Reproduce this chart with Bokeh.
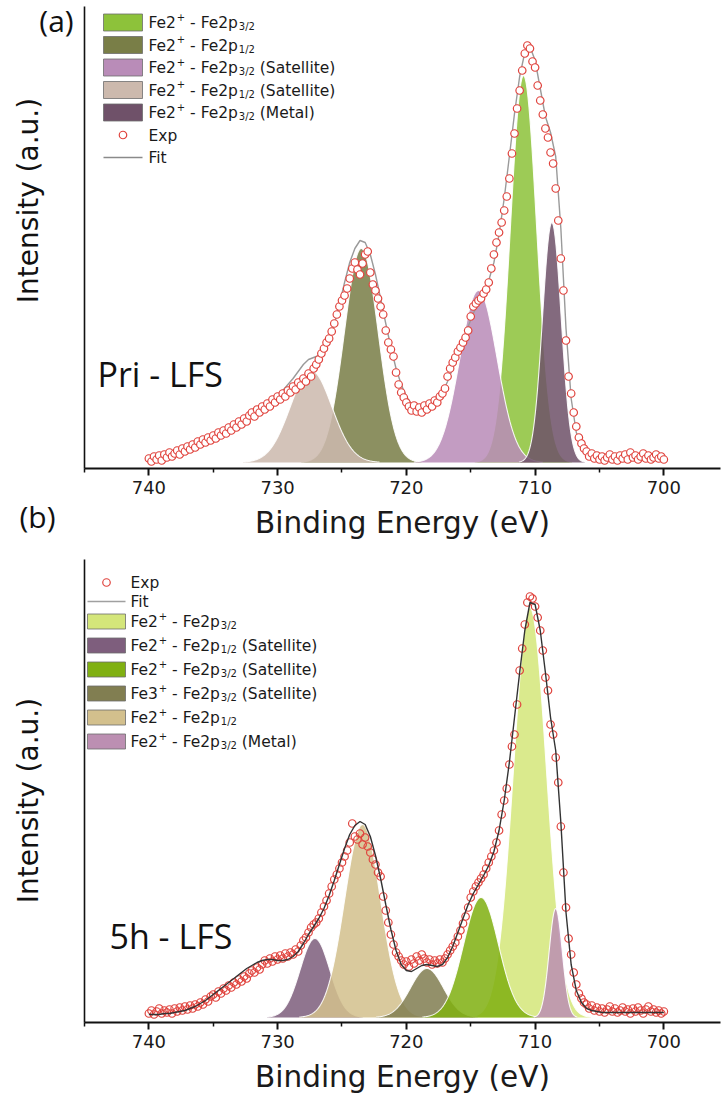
import numpy as np
from bokeh.plotting import figure
from bokeh.models import Range1d, FixedTicker
from bokeh.layouts import column, row
from bokeh.embed import file_html
from bokeh.resources import INLINE
from bokeh.core.properties import value

# ---------------- data ----------------
x_ticks = [740, 730, 720, 710, 700]
x_minor = [745, 735, 725, 715, 705]
exp_start, exp_step = 740.0, 0.2
fit_start, fit_step = 740.0, 0.4

# panel (a) : Pri - LFS
a_exp = [10, 7, 12, 9, 13, 8, 14, 11, 16, 12, 15, 18, 14, 20, 17, 22, 19, 24, 21, 27,
         24, 29, 26, 31, 28, 33, 30, 36, 33, 38, 35, 41, 38, 44, 41, 47, 44, 50, 47, 53,
         56, 52, 59, 56, 62, 59, 65, 62, 69, 66, 72, 69, 75, 72, 78, 76, 82, 79, 86, 83,
         90, 87, 95, 92, 100, 104, 109, 115, 120, 126, 130, 137, 145, 154, 162, 168, 173, 180, 190, 200,
         206, 199, 194, 205, 214, 217, 196, 184, 178, 170, 162, 154, 138, 126, 119, 112, 96, 84, 76, 71,
         66, 62, 58, 63, 57, 61, 56, 63, 59, 65, 62, 68, 66, 72, 75, 80, 92, 100, 106, 111,
         117, 121, 126, 131, 138, 152, 162, 165, 168, 170, 175, 179, 186, 200, 214, 226, 236, 246, 258, 272,
         290, 315, 335, 360, 378, 398, 415, 423, 420, 407, 401, 383, 368, 354, 340, 331, 316, 305, 280, 248,
         210, 178, 128, 92, 75, 56, 42, 31, 25, 20, 17, 12, 15, 10, 13, 9, 12, 8, 11, 14,
         9, 12, 8, 13, 10, 14, 9, 16, 11, 13, 9, 12, 15, 10, 13, 9, 11, 14, 10, 12, 9]
a_fit = [8, 9, 10, 11, 13, 14, 16, 18, 20, 22, 25, 28, 31, 34, 37, 40, 43, 46, 49, 52,
         55, 58, 61, 65, 69, 73, 78, 84, 90, 97, 104, 109, 111, 113, 118, 128, 144, 164, 186, 206,
         220, 228, 226, 214, 194, 170, 145, 121, 100, 84, 72, 64, 60, 59, 60, 63, 68, 76, 87, 100,
         114, 128, 142, 155, 166, 176, 188, 206, 234, 270, 312, 355, 392, 416, 422, 408, 380, 352, 336, 312,
         240, 140, 70, 36, 22, 15, 12, 11, 10, 10, 10, 10, 10, 10, 10, 10, 10, 10, 10, 10, 10]
a_names = ["Fe2+ - Fe2p3/2", "Fe2+ - Fe2p1/2", "Fe2+ - Fe2p3/2 (Satellite)",
           "Fe2+ - Fe2p1/2 (Satellite)", "Fe2+ - Fe2p3/2 (Metal)"]
a_centers = [710.9, 723.5, 714.4, 727.4, 708.7]
a_heights = [387, 214, 172, 92, 240]
a_fwhm = [2.4, 3.1, 3.4, 3.8, 1.7]
a_colors = ["#8DC23A", "#797E47", "#B98CB8", "#CCB9AD", "#6F5169"]
a_order = [1, 3, 0, 2, 4]
a_base = 6

# panel (b) : 5h - LFS
b_exp = [9, 12, 8, 11, 14, 9, 12, 10, 13, 9, 14, 11, 15, 12, 16, 13, 17, 14, 18, 16,
         20, 18, 23, 21, 26, 28, 25, 31, 29, 34, 32, 37, 35, 40, 38, 43, 41, 46, 44, 49,
         52, 50, 55, 53, 58, 62, 59, 64, 61, 66, 63, 67, 64, 69, 66, 70, 68, 73, 71, 77,
         82, 85, 90, 95, 98, 100, 104, 110, 116, 122, 129, 136, 143, 148, 154, 160, 166, 172, 180, 199,
         186, 183, 189, 178, 185, 176, 170, 163, 158, 150, 146, 126, 112, 100, 88, 78, 70, 66, 62, 58,
         61, 56, 63, 59, 66, 62, 68, 64, 60, 63, 58, 62, 59, 63, 60, 64, 68, 72, 76, 80,
         86, 92, 99, 106, 115, 125, 131, 136, 140, 144, 148, 154, 160, 166, 172, 180, 192, 208, 222, 234,
         258, 276, 288, 318, 352, 374, 398, 420, 426, 424, 416, 405, 392, 372, 345, 332, 298, 288, 265, 240,
         196, 150, 115, 84, 68, 50, 38, 29, 24, 20, 18, 14, 17, 12, 15, 11, 14, 10, 13, 16,
         11, 14, 10, 12, 15, 11, 13, 9, 14, 11, 15, 12, 9, 13, 16, 11, 13, 10, 12, 9, 11]
b_fit = [8, 8, 8, 9, 9, 10, 11, 12, 14, 16, 19, 22, 26, 30, 34, 38, 42, 46, 50, 54,
         57, 60, 62, 63, 63, 62, 62, 63, 66, 71, 79, 88, 96, 104, 114, 127, 142, 158, 174, 188,
         197, 201, 198, 186, 167, 144, 118, 93, 72, 58, 52, 51, 54, 57, 58, 57, 56, 58, 65, 76,
         90, 104, 118, 129, 138, 147, 157, 171, 192, 222, 260, 305, 350, 392, 420, 418, 392, 350, 305, 272,
         200, 110, 58, 32, 20, 14, 12, 11, 10, 10, 10, 10, 10, 10, 10, 10, 10, 10, 10, 10, 10]
b_names = ["Fe2+ - Fe2p3/2", "Fe2+ - Fe2p1/2 (Satellite)", "Fe2+ - Fe2p3/2 (Satellite)",
           "Fe3+ - Fe2p3/2 (Satellite)", "Fe2+ - Fe2p1/2", "Fe2+ - Fe2p3/2 (Metal)"]
b_centers = [710.4, 727.1, 714.2, 718.4, 723.4, 708.4]
b_heights = [410, 79, 120, 49, 193, 109]
b_fwhm = [3.0, 2.7, 3.2, 3.0, 3.3, 1.2]
b_colors = ["#D4E67A", "#7E5E7D", "#80B012", "#817E51", "#D3C08D", "#BC8FB2"]
b_order = [0, 1, 4, 3, 2, 5]
b_base = 5

# ---------------- layout helpers ----------------
W = 727
SIDE_W = 78
FRAME_LEFT, FRAME_RIGHT = 84, 720
X_LEFT, X_RIGHT = 745.0, 695.6
AX_FONT = "DejaVu Sans"
DV = {" ": .318, "(": .390, ")": .390, "+": .838, "-": .361, ".": .318, "/": .337,
      "0": .636, "1": .636, "2": .636, "3": .636, "E": .632, "F": .575, "M": .863,
      "S": .635, "a": .613, "e": .615, "i": .278, "l": .278, "p": .635, "t": .392, "x": .592}


def tw(s, size):
    return sum(DV.get(c, .6) for c in s) * size


def parts_of(name):
    if name in ("Exp", "Fit"):
        return [(name, "n")]
    ion, rest = name.split(" - ")
    sub = "3/2" if "3/2" in rest else "1/2"
    tail = rest.split(sub)[1]
    out = [(ion[:-1], "n"), ("+", "sup"), (" - Fe2p", "n"), (sub, "sub")]
    if tail:
        out.append((tail, "n"))
    return out


def make_panel(height, top, bottom_border, exp, fit, names, centers, heights, fwhm,
               colors, order, base, legend, fit_color, exp_fill, fit_over):
    frame_h = height - top - bottom_border
    p = figure(width=W - SIDE_W, height=height, output_backend="svg", toolbar_location=None,
               x_range=Range1d(X_LEFT, X_RIGHT), y_range=Range1d(0, frame_h),
               min_border_left=FRAME_LEFT - SIDE_W, min_border_right=W - FRAME_RIGHT,
               min_border_top=top, min_border_bottom=bottom_border)
    p.extra_x_ranges = {"px": Range1d(0, FRAME_RIGHT - FRAME_LEFT)}
    p.extra_y_ranges = {"py": Range1d(0, frame_h)}
    p.outline_line_color = None
    p.grid.visible = False
    p.background_fill_color = "white"
    p.border_fill_color = "white"

    xa = p.xaxis[0]
    xa.ticker = FixedTicker(ticks=x_ticks, minor_ticks=x_minor)
    xa.axis_line_width = 2
    xa.axis_line_color = "#111111"
    xa.major_tick_line_width = 2
    xa.major_tick_line_color = "#111111"
    xa.major_tick_in = 0
    xa.major_tick_out = 7
    xa.minor_tick_line_width = 1.5
    xa.minor_tick_line_color = "#111111"
    xa.minor_tick_in = 0
    xa.minor_tick_out = 4
    xa.major_label_text_font = AX_FONT
    xa.major_label_text_font_size = "18px"
    xa.major_label_text_color = "#1a1a1a"
    xa.major_label_standoff = 5
    xa.axis_label = "Binding Energy (eV)"
    xa.axis_label_text_font = AX_FONT
    xa.axis_label_text_font_size = "29.5px"
    xa.axis_label_text_font_style = "normal"
    xa.axis_label_text_color = "#1a1a1a"
    xa.axis_label_standoff = 9

    ya = p.yaxis[0]
    ya.ticker = FixedTicker(ticks=[])
    ya.axis_line_width = 1.6
    ya.axis_line_color = "#111111"
    ya.major_tick_line_color = None
    ya.minor_tick_line_color = None
    ya.major_tick_out = 0
    ya.major_label_standoff = 0
    ya.major_label_text_font_size = "0px"

    xs = np.linspace(X_LEFT, X_RIGHT, 1200)
    for i in order:
        sig = fwhm[i] / 2.3548
        g = heights[i] * np.exp(-0.5 * ((xs - centers[i]) / sig) ** 2)
        m = g > 0.4
        p.varea(x=xs[m], y1=np.full(m.sum(), base), y2=base + g[m],
                fill_color=colors[i], fill_alpha=0.86)
        p.line(xs[m], base + g[m], line_color="white", line_width=1.1, line_alpha=0.9)

    ex = exp_start - exp_step * np.arange(len(exp))
    fx = fit_start - fit_step * np.arange(len(fit))
    if not fit_over:
        p.line(fx, fit, line_color=fit_color, line_width=1.4)
    p.scatter(ex, exp, marker="circle", size=7.5, line_color="#E0433D", line_width=1.2,
              fill_color=exp_fill, fill_alpha=1.0 if exp_fill else 0)
    if fit_over:
        p.line(fx, fit, line_color=fit_color, line_width=1.4)

    # legend (pixel space inside the frame)
    (lx0, lx1, tx, sw_h, rows, fsize, ssize, leg_fit_color) = legend
    sx0, sx1 = lx0 - FRAME_LEFT, lx1 - FRAME_LEFT
    n_x, n_y, n_t, s_x, s_y, s_t = [], [], [], [], [], []
    for kind_name, row_y in rows:
        cy = (top + frame_h) - row_y
        if kind_name == "Exp":
            p.scatter([(sx0 + sx1) / 2], [cy], marker="circle", size=7.5, line_color="#E0433D",
                      line_width=1.2, fill_color="white", x_range_name="px", y_range_name="py")
        elif kind_name == "Fit":
            p.line([sx0, sx1], [cy, cy], line_color=leg_fit_color, line_width=1.6,
                   x_range_name="px", y_range_name="py")
        else:
            c = colors[names.index(kind_name)]
            p.rect([(sx0 + sx1) / 2], [cy], width=sx1 - sx0, height=sw_h, fill_color=c,
                   line_color="#6d6d6d", line_width=0.8, x_range_name="px", y_range_name="py")
        xcur = tx - FRAME_LEFT
        base_y = cy - 0.30 * fsize + 4
        for txt, kind in parts_of(kind_name):
            size = fsize if kind == "n" else ssize
            lead = len(txt) - len(txt.lstrip(" "))
            core = txt.strip(" ")
            xcur += tw(" " * lead, size)
            if kind == "n":
                n_x.append(xcur); n_y.append(base_y); n_t.append(core)
            else:
                s_x.append(xcur)
                s_y.append(base_y + (0.42 * fsize if kind == "sup" else -0.22 * fsize))
                s_t.append(core)
            xcur += tw(core, size)
    p.text(x=n_x, y=n_y, text=n_t, text_font=value(AX_FONT), text_font_size=value(f"{fsize}px"),
           text_baseline="alphabetic", text_align="left", text_color="#1a1a1a",
           x_range_name="px", y_range_name="py")
    p.text(x=s_x, y=s_y, text=s_t, text_font=value(AX_FONT), text_font_size=value(f"{ssize}px"),
           text_baseline="alphabetic", text_align="left", text_color="#1a1a1a",
           x_range_name="px", y_range_name="py")
    return p, frame_h


def side_panel(height):
    s = figure(width=SIDE_W, height=height, output_backend="svg", toolbar_location=None,
               x_range=Range1d(0, SIDE_W), y_range=Range1d(height, 0),
               x_axis_type=None, y_axis_type=None, frame_align=False,
               min_border_left=0, min_border_right=0, min_border_top=0, min_border_bottom=0)
    s.outline_line_color = None
    s.grid.visible = False
    s.background_fill_color = "white"
    s.border_fill_color = "white"
    return s


def side_text(s, text, x, y, size, font, angle=0.0):
    s.text(x=[x], y=[y], text=[text], angle=angle, text_font=value(font),
           text_font_size=value(size), text_align="center", text_baseline="middle",
           text_color="#111111")


# ---------------- panel (a) ----------------
H_A, TOP_A, BOT_A = 550, 6, 82
rows_a = [(n, 22 + 22.5 * i) for i, n in enumerate(a_names)] + \
         [("Exp", 22 + 22.5 * 5), ("Fit", 22 + 22.5 * 6)]
pa, fh_a = make_panel(H_A, TOP_A, BOT_A, a_exp, a_fit, a_names, a_centers, a_heights, a_fwhm,
                      a_colors, a_order, a_base,
                      (103, 142, 148, 17, rows_a, 15.5, 10, "#8a8a8a"),
                      "#9a9a9a", "white", False)
bot_a = TOP_A + fh_a
pa.text(x=[97 - FRAME_LEFT], y=[bot_a - 373], text=["Pri - LFS"], text_font=value("Open Sans"),
        text_font_size=value("34px"), text_align="left", text_baseline="middle",
        text_color="#111111", x_range_name="px", y_range_name="py")
sa = side_panel(H_A)
side_text(sa, "(a)", 56, 20, "30px", "Open Sans")
side_text(sa, "Intensity (a.u.)", 28, 200, "28px", AX_FONT, angle=np.pi / 2)
side_text(sa, "(b)", 37, 516, "30px", "Open Sans")

# ---------------- panel (b) ----------------
H_B, TOP_B, BOT_B = 549, 9, 77
OFF_B = H_A
rows_b_abs = [("Exp", 582), ("Fit", 601)] + \
             [(n, 621 + 24 * i) for i, n in enumerate(b_names)]
rows_b = [(n, y - OFF_B) for n, y in rows_b_abs]
pb, fh_b = make_panel(H_B, TOP_B, BOT_B, b_exp, b_fit, b_names, b_centers, b_heights, b_fwhm,
                      b_colors, b_order, b_base,
                      (87, 125, 130, 15, rows_b, 15.5, 10, "#a0a0a0"),
                      "#333333", None, True)
bot_b = TOP_B + fh_b
pb.text(x=[109 - FRAME_LEFT], y=[bot_b - (935 - OFF_B)], text=["5h - LFS"],
        text_font=value("Open Sans"), text_font_size=value("34px"), text_align="left",
        text_baseline="middle", text_color="#111111", x_range_name="px", y_range_name="py")
sb = side_panel(H_B)
side_text(sb, "Intensity (a.u.)", 28, 800 - OFF_B, "28px", AX_FONT, angle=np.pi / 2)

layout = column(row(sa, pa, spacing=0), row(sb, pb, spacing=0), spacing=0)
open("out.html", "w").write(file_html(layout, INLINE))
